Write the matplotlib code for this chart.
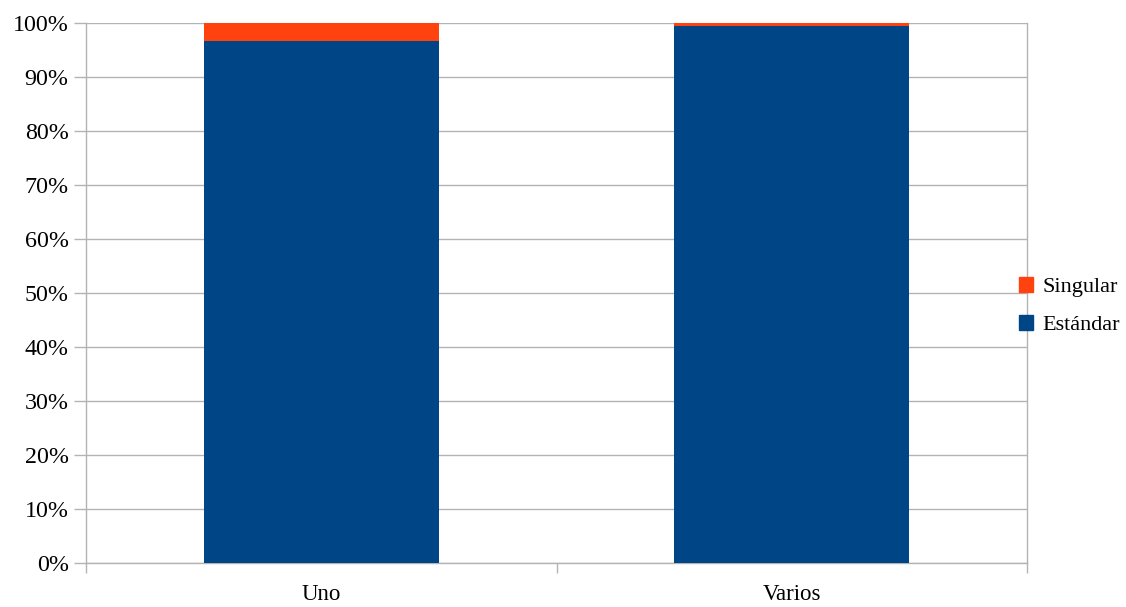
import matplotlib
matplotlib.use("Agg")
from matplotlib import pyplot as plt
from matplotlib.ticker import MultipleLocator, PercentFormatter
from matplotlib.patches import Patch

categories = ["Uno", "Varios"]
estandar = [96.67, 99.4]
singular = [3.33, 0.6]

blue = "#004586"
orange = "#ff420e"
grid_gray = "#b3b3b3"

plt.rcParams["font.family"] = ["Liberation Serif", "DejaVu Serif"]

fig = plt.figure(figsize=(11.26, 6.07), dpi=100)
ax = fig.add_axes([86 / 1126, 1 - 563 / 607, (1027 - 86) / 1126, 540 / 607])

x = [0.5 + i for i in range(len(categories))]
ax.bar(x, estandar, width=0.5, color=blue, zorder=3)
ax.bar(x, singular, width=0.5, bottom=estandar, color=orange, zorder=3)

ax.set_xlim(0, len(categories))
ax.set_ylim(0, 100)
ax.yaxis.set_major_locator(MultipleLocator(10))
ax.yaxis.set_major_formatter(PercentFormatter(decimals=0))
ax.set_xticks([0, 1, 2])
ax.set_xticklabels([])
ax.set_xticks(x, minor=True)
ax.set_xticklabels(categories, minor=True)
ax.tick_params(axis="x", which="minor", length=0, pad=15, labelsize=16.5)
ax.tick_params(axis="x", which="major", length=7, color=grid_gray, width=1)
ax.tick_params(axis="y", length=8.5, color=grid_gray, width=1, labelsize=17.3, pad=4)
ax.grid(axis="y", color=grid_gray, linewidth=1, zorder=0)

for side in ["left", "right", "top", "bottom"]:
    ax.spines[side].set_color(grid_gray)
    ax.spines[side].set_linewidth(1)
ax.spines["top"].set_visible(False)

handles = [Patch(color=orange, label="Singular"), Patch(color=blue, label="Estándar")]
fig.legend(handles=handles, loc="center left", bbox_to_anchor=(1010 / 1126, 1 - 306 / 607),
           frameon=False, fontsize=16, handlelength=0.65, handleheight=0.65,
           handletextpad=0.4, labelspacing=0.8, borderaxespad=0)

fig.savefig("out.png", dpi=100)
